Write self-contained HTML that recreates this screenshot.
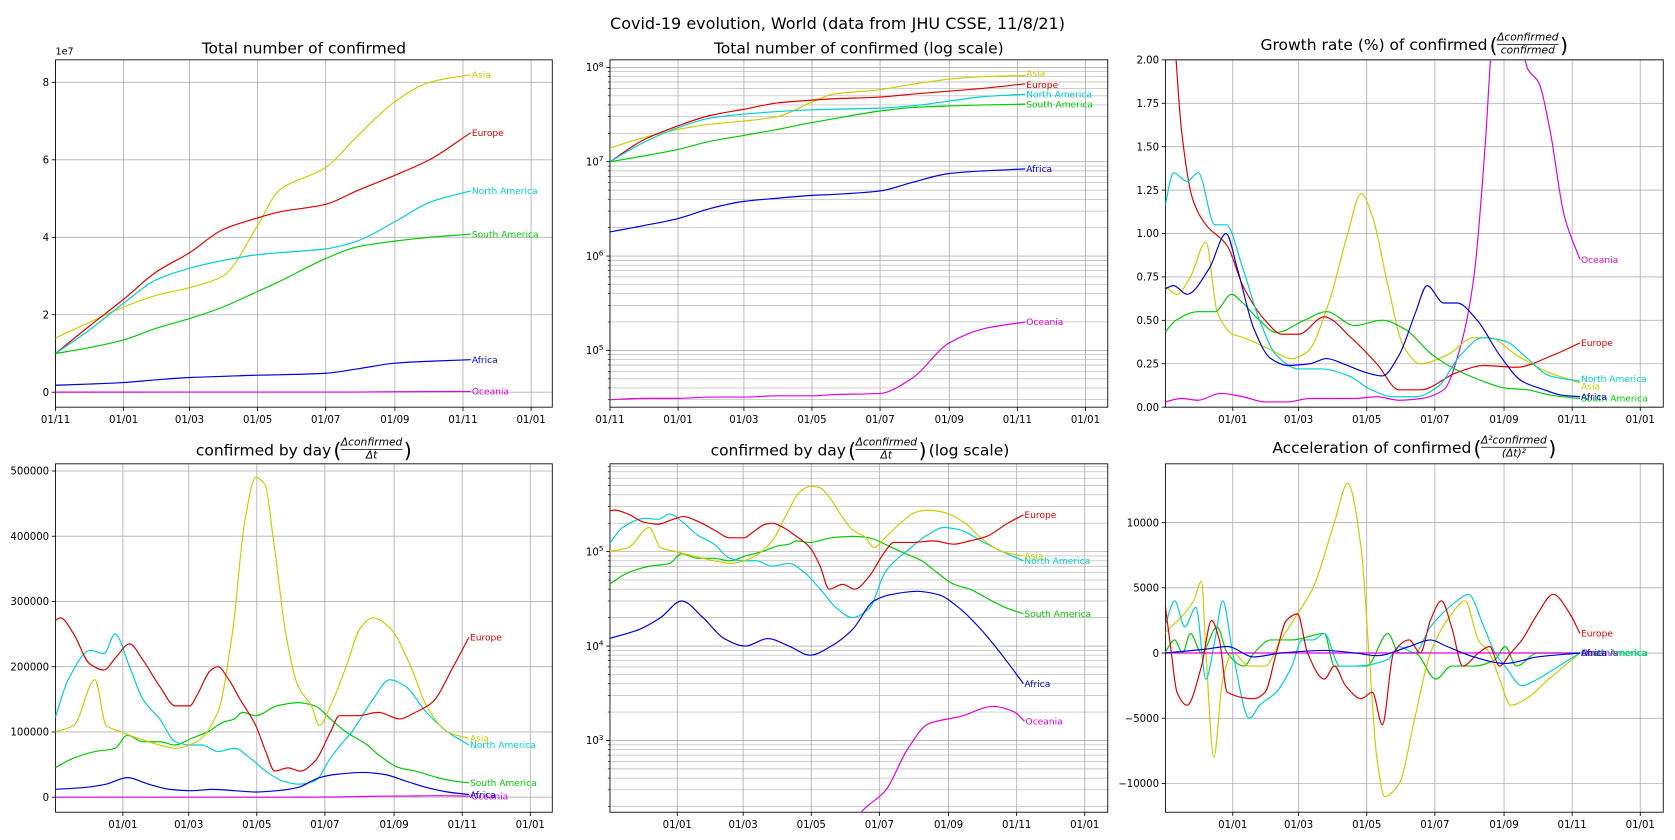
<!DOCTYPE html>
<html><head><meta charset="utf-8"><title>Covid-19 evolution</title>
<style>
html,body{margin:0;padding:0;background:#fff;overflow:hidden;width:1675px;height:840px;}
svg{display:block;font-family:"DejaVu Sans","Liberation Sans",sans-serif;}
</style></head>
<body>
<svg id="chart" width="1675" height="840" viewBox="0 0 1568 786" preserveAspectRatio="none" xmlns="http://www.w3.org/2000/svg">
<text x="784" y="27" text-anchor="middle" font-size="15">Covid-19 evolution, World (data from JHU CSSE, 11/8/21)</text>
</svg>
<script>
// ---------- DATA ----------
const regions = ['Europe','Asia','North America','South America','Africa','Oceania'];
const xTickDays = [0,61,120,181,242,304,365,426];
const xTickLabels = ['01/11','01/01','01/03','01/05','01/07','01/09','01/11','01/01'];

// cumulative confirmed (millions)
const cumDays = [0,30,61,90,120,150,181,200,242,270,304,335,372];
const cumEurope = [10,17,24,31,36,42,45,46.5,48.5,52,56,60,67];
const cumAsia = [14,18,22,25,27,30,43,52,58,66,75,80,82];
const cumNA = [10,16,23,29,32,34,35.5,36,37,39,44,49,52];
const cumSA = [10,11.5,13.5,16.5,19,22,26,28.5,34.5,37.5,39,40,40.8];
const cumAfrica = [1.8,2.1,2.5,3.2,3.8,4.1,4.4,4.5,4.9,6.0,7.5,8.0,8.4];
const cumOceania = [0.030,0.031,0.031,0.032,0.032,0.033,0.033,0.034,0.035,0.05,0.12,0.17,0.20];

// growth rate (%)
const grEuropeD = [0,8,15,25,37,56,70,90,105,120,143,167,190,210,229,262,286,315,348,372];
const grEuropeV = [2.8,2.2,1.6,1.2,1.05,0.93,0.7,0.5,0.42,0.42,0.52,0.4,0.25,0.1,0.1,0.2,0.24,0.23,0.3,0.37];
const grAsiaD = [0,11,23,37,47,61,71,95,114,128,147,164,176,186,200,214,229,253,277,291,315,344,372];
const grAsiaV = [0.7,0.65,0.75,0.95,0.55,0.42,0.4,0.33,0.28,0.32,0.6,1.0,1.23,1.1,0.7,0.35,0.25,0.3,0.4,0.4,0.3,0.2,0.14];
const grNAD = [0,8,20,30,45,55,70,85,100,120,140,165,185,205,225,245,265,285,305,325,345,372];
const grNAV = [1.15,1.35,1.3,1.35,1.05,1.05,0.8,0.5,0.3,0.22,0.22,0.18,0.1,0.06,0.06,0.12,0.3,0.4,0.38,0.28,0.18,0.15];
const grSAD = [0,10,30,45,60,70,85,100,125,145,170,195,215,240,260,285,305,325,345,372];
const grSAV = [0.43,0.5,0.55,0.55,0.65,0.6,0.5,0.43,0.5,0.55,0.47,0.5,0.45,0.3,0.22,0.15,0.11,0.1,0.07,0.05];
const grAfricaD = [0,8,20,40,55,65,80,95,110,130,145,160,180,195,210,225,235,250,262,280,300,320,340,355,372];
const grAfricaV = [0.68,0.7,0.65,0.8,1.0,0.8,0.45,0.28,0.24,0.25,0.28,0.25,0.2,0.18,0.3,0.55,0.7,0.6,0.6,0.5,0.3,0.15,0.1,0.07,0.06];
const grOceaniaD = [0,15,30,50,70,90,110,130,170,190,210,230,250,265,277,287,293,300,315,325,335,345,358,372];
const grOceaniaV = [0.03,0.05,0.04,0.08,0.06,0.03,0.03,0.05,0.05,0.06,0.04,0.05,0.1,0.35,0.75,1.5,2.1,2.5,2.3,1.95,1.87,1.6,1.1,0.85];

// confirmed by day (thousands)
const dayEuropeD = [0,5,17,31,44,55,67,79,94,108,121,127,140,146,156,166,180,189,197,209,220,233,247,255,271,290,309,323,338,357,371];
const dayEuropeV = [270,275,250,205,195,215,235,210,170,140,140,155,195,200,180,150,110,70,40,45,40,55,100,125,125,130,120,130,145,200,245];
const dayAsiaD = [0,17,36,46,60,75,94,108,127,146,159,170,180,188,197,207,218,230,237,247,261,274,285,300,319,333,352,371];
const dayAsiaV = [100,110,180,110,100,90,80,75,85,130,250,420,490,480,380,250,170,140,110,140,200,260,275,260,200,140,100,90];
const dayNAD = [0,12,32,44,54,67,79,94,108,121,132,146,161,175,189,204,218,233,247,256,266,285,300,314,333,352,371];
const dayNAV = [120,180,225,220,250,200,150,120,85,80,80,70,75,60,40,25,20,25,60,80,100,150,180,170,130,100,80];
const daySAD = [0,17,36,54,65,79,94,108,122,137,151,161,168,180,199,218,233,247,261,280,290,309,323,343,357,371];
const daySAV = [45,60,70,75,95,85,85,80,90,100,115,120,130,125,140,145,140,120,100,80,65,45,40,30,25,22];
const dayAfricaD = [0,27,46,65,84,103,122,142,161,180,199,218,237,252,276,295,314,333,352,371];
const dayAfricaV = [12,15,20,30,20,12,10,12,10,8,10,15,30,35,38,35,25,15,8,4];
const dayOceaniaD = [0,60,120,180,210,225,248,267,286,315,344,363,372];
const dayOceaniaV = [0.03,0.04,0.05,0.05,0.08,0.17,0.3,0.8,1.5,1.8,2.3,2.0,1.6];

// acceleration (thousands)
const accEuropeD = [0,6,11,20,33,42,49,56,80,90,100,109,119,128,143,152,162,176,186,195,205,219,229,238,248,257,267,281,291,300,310,320,334,348,363,372];
const accEuropeV = [4,0,-3,-4,-1,2.5,1,-3,-3.5,-3,0,2.5,3,0,-2,-1,-2.5,-3.5,-3,-5.5,0,1,0,2.5,4,2,-1,0,0.5,-1,0,1,3,4.5,3,1.5];
const accAsiaD = [0,26,33,37,44,52,61,76,90,104,119,133,152,164,176,183,190,197,210,224,238,257,269,281,291,300,310,324,344,358,372];
const accAsiaV = [1.5,4,5.5,0,-8,-2,0,-1,-1,1,3,5,10,13,8,0,-8,-11,-10,-5,0,3,4,1,0,-2,-4,-3.5,-2,-1,0];
const accNAD = [0,9,18,28,37,45,52,61,76,85,100,114,123,133,143,157,171,200,210,224,238,262,272,286,296,305,320,334,353,372];
const accNAV = [2,4,2,3.5,-2,1,4,0,-5,-4,-3,-1,1,1,1.5,-1,-1,-0.5,0.5,0,2,4,4.5,2,0,-1,-2.5,-2,-1,0];
const accSAD = [0,9,16,23,33,47,56,71,80,95,114,143,152,181,200,210,224,243,257,277,296,305,315,334,372];
const accSAV = [0,1,0,1.5,0,2,0,-1,0,1,1,1.5,-1,-1,1.5,0,0,-2,-1,-1,-0.5,0.5,-1,0,0];
const accAfricaD = [0,37,56,80,104,143,171,190,219,238,253,277,305,334,372];
const accAfricaV = [0,0.3,0.5,-0.3,0,0.2,0,-0.2,0.5,1,0.5,-0.3,-0.8,-0.3,0];
const accOceaniaD = [0,372];
const accOceaniaV = [0,0];

const p1YTicks = [0,20,40,60,80];
const p1YLabels = ['0','2','4','6','8'];
const p2YTicks = [0.1,1,10,100];
const p2YExp = ['5','6','7','8'];
const p3YTicks = [0,0.25,0.5,0.75,1,1.25,1.5,1.75,2];
const p4YTicks = [0,100,200,300,400,500];
const p5YTicks = [1,10,100];
const p5YExp = ['3','4','5'];
const p6YTicks = [-10,-5,0,5,10];
const p6YLabels = ['\u221210000','\u22125000','0','5000','10000'];

// ---------- RENDER ----------
const NS = 'http://www.w3.org/2000/svg';
const svg = document.getElementById('chart');
const colors = {'Europe':'#e00000','Asia':'#cccc00','North America':'#00d0d0','South America':'#00cc00','Africa':'#0000e0','Oceania':'#e000e0'};
function mk(tag, parent){ const e = document.createElementNS(NS, tag); (parent||svg).appendChild(e); return e; }

const P = {
  p1:{x0:52,x1:517,y0:56,y1:381,xmin:0,xmax:445,ymin:-3.86,ymax:85.8,log:false},
  p2:{x0:571,x1:1037,y0:56,y1:381,xmin:0,xmax:446,ymin:Math.pow(10,-1.602),ymax:Math.pow(10,2.08),log:true},
  p3:{x0:1091,x1:1557,y0:56,y1:381,xmin:0.7,xmax:446.6,ymin:0,ymax:2,log:false},
  p4:{x0:52,x1:517,y0:434,y1:760,xmin:0.7,xmax:445.7,ymin:-23,ymax:511,log:false},
  p5:{x0:571,x1:1037,y0:434,y1:760,xmin:0.7,xmax:446.6,ymin:Math.pow(10,-0.76),ymax:Math.pow(10,2.93),log:true},
  p6:{x0:1091,x1:1557,y0:434,y1:760,xmin:0.7,xmax:446.6,ymin:-12.2,ymax:14.5,log:false}
};
function sx(p,d){ return p.x0 + (d-p.xmin)/(p.xmax-p.xmin)*(p.x1-p.x0); }
function sy(p,v){
  if(p.log){ const a=Math.log10(p.ymin), b=Math.log10(p.ymax); const lv=Math.log10(Math.max(v,1e-6)); return p.y1-(lv-a)/(b-a)*(p.y1-p.y0); }
  return p.y1-(v-p.ymin)/(p.ymax-p.ymin)*(p.y1-p.y0);
}
function monoPath(xs, ys){
  const n = xs.length; if(n<2) return '';
  const dx=[], m=[], t=[];
  for(let i=0;i<n-1;i++){ dx[i]=xs[i+1]-xs[i]; m[i]=(ys[i+1]-ys[i])/dx[i]; }
  t[0]=m[0]; t[n-1]=m[n-2];
  for(let i=1;i<n-1;i++){
    if(m[i-1]*m[i]<=0) t[i]=0;
    else { const w1=2*dx[i]+dx[i-1], w2=dx[i]+2*dx[i-1]; t[i]=(w1+w2)/(w1/m[i-1]+w2/m[i]); }
  }
  let d='M'+xs[0].toFixed(2)+','+ys[0].toFixed(2);
  for(let i=0;i<n-1;i++){
    const h=dx[i]/3;
    d+='C'+(xs[i]+h).toFixed(2)+','+(ys[i]+t[i]*h).toFixed(2)+' '+(xs[i+1]-h).toFixed(2)+','+(ys[i+1]-t[i+1]*h).toFixed(2)+' '+xs[i+1].toFixed(2)+','+ys[i+1].toFixed(2);
  }
  return d;
}

let clipId = 0;
function drawFrame(key, yTicks, yLabelFn, yExp){
  const p = P[key];
  const g = mk('g');
  
  
  xTickDays.forEach((d,i)=>{
    if(d < p.xmin-0.01 || d > p.xmax) return;
    const x = sx(p,d);
    const gl = mk('line', g);
    
    
    gl.setAttribute('x1',x); gl.setAttribute('x2',x); gl.setAttribute('y1',p.y0); gl.setAttribute('y2',p.y1);
    gl.setAttribute('stroke','#b0b0b0'); gl.setAttribute('stroke-width','0.8');
    const tk = mk('line', g);
    
    
    tk.setAttribute('x1',x); tk.setAttribute('x2',x); tk.setAttribute('y1',p.y1); tk.setAttribute('y2',p.y1+3.5);
    tk.setAttribute('stroke','#000'); tk.setAttribute('stroke-width','0.8');
    const tl = mk('text', g);
    
    
    tl.setAttribute('x',x); tl.setAttribute('y',p.y1+15); tl.setAttribute('font-size','9.5'); tl.setAttribute('text-anchor','middle');
    tl.textContent = xTickLabels[i];
  });
  if(p.log){
    const a=Math.floor(Math.log10(p.ymin)), b=Math.ceil(Math.log10(p.ymax));
    for(let e=a;e<=b;e++){
      for(let k=2;k<=9;k++){
        const v=k*Math.pow(10,e);
        if(v<p.ymin||v>p.ymax) continue;
        const y=sy(p,v);
        const ml = mk('line', g);
        
        
        ml.setAttribute('x1',p.x0); ml.setAttribute('x2',p.x1); ml.setAttribute('y1',y); ml.setAttribute('y2',y);
        ml.setAttribute('stroke','#b0b0b0'); ml.setAttribute('stroke-width','0.6');
        const mt = mk('line', g);
        
        
        mt.setAttribute('x1',p.x0-2); mt.setAttribute('x2',p.x0); mt.setAttribute('y1',y); mt.setAttribute('y2',y);
        mt.setAttribute('stroke','#000'); mt.setAttribute('stroke-width','0.6');
      }
    }
  }
  yTicks.forEach((v,i)=>{
    const y = sy(p,v);
    const gl = mk('line', g);
    
    
    gl.setAttribute('x1',p.x0); gl.setAttribute('x2',p.x1); gl.setAttribute('y1',y); gl.setAttribute('y2',y);
    gl.setAttribute('stroke','#b0b0b0'); gl.setAttribute('stroke-width','0.8');
    const tk = mk('line', g);
    
    
    tk.setAttribute('x1',p.x0-3.5); tk.setAttribute('x2',p.x0); tk.setAttribute('y1',y); tk.setAttribute('y2',y);
    tk.setAttribute('stroke','#000'); tk.setAttribute('stroke-width','0.8');
    const tl = mk('text', g);
    
    
    tl.setAttribute('x',p.x0-6); tl.setAttribute('y',y+3.5); tl.setAttribute('font-size','9.5'); tl.setAttribute('text-anchor','end');
    if(yExp){
      tl.textContent = '10';
      const sup = mk('tspan', tl);
      
      
      sup.setAttribute('dy','-4'); sup.setAttribute('font-size','7');
      sup.textContent = yExp[i];
    } else {
      tl.textContent = yLabelFn(i,v);
    }
  });
  const fr = mk('rect', g);
  
  
  fr.setAttribute('x',p.x0); fr.setAttribute('y',p.y0); fr.setAttribute('width',p.x1-p.x0); fr.setAttribute('height',p.y1-p.y0);
  fr.setAttribute('fill','none'); fr.setAttribute('stroke','#000'); fr.setAttribute('stroke-width','0.8');
  const cp = mk('clipPath');
  const id = 'clip'+(clipId++);
  cp.setAttribute('id', id);
  const cr = mk('rect', cp);
  cr.setAttribute('x',p.x0); cr.setAttribute('y',p.y0); cr.setAttribute('width',p.x1-p.x0); cr.setAttribute('height',p.y1-p.y0);
  const sg = mk('g');
  
  
  sg.setAttribute('clip-path','url(#'+id+')');
  return sg;
}

function drawSeries(key, g, region, days, vals, labelOffset){
  const p = P[key];
  const xs = days.map(d=>sx(p,d));
  const ys = vals.map(v=>sy(p,v));
  const path = mk('path', g);
  
  
  path.setAttribute('d', monoPath(xs, ys));
  path.setAttribute('fill','none'); path.setAttribute('stroke',colors[region]); path.setAttribute('stroke-width','1.1');
  const lbl = mk('text', g);
  
  
  lbl.setAttribute('x', xs[xs.length-1]+1);
  lbl.setAttribute('y', ys[ys.length-1]+3+(labelOffset||0));
  lbl.setAttribute('font-size','8.5');
  lbl.setAttribute('fill', colors[region]);
  lbl.textContent = region;
}

function title(key, y, pre, num, den, post){
  const p = P[key];
  const g = mk('g');
  
  
  const t = mk('text', g);
  
  
  t.setAttribute('y', y); t.setAttribute('font-size','14.5');
  t.textContent = pre;
  let w = t.getComputedTextLength();
  if(!num){ t.setAttribute('x', (p.x0+p.x1)/2 - w/2); return; }
  const n = mk('text', g);
  
  
  n.setAttribute('font-size','10'); n.setAttribute('font-style','italic'); n.setAttribute('text-anchor','middle');
  n.textContent = num;
  const dn = mk('text', g);
  
  
  dn.setAttribute('font-size','10'); dn.setAttribute('font-style','italic'); dn.setAttribute('text-anchor','middle');
  dn.textContent = den;
  const fw = Math.max(n.getComputedTextLength(), dn.getComputedTextLength());
  const pw = 9;
  const pt = mk('text', g);
  
  
  pt.setAttribute('font-size','14.5'); pt.setAttribute('y', y);
  pt.textContent = post || '';
  const postW = post ? pt.getComputedTextLength() : 0;
  const total = w + pw + fw + pw + postW;
  const x = (p.x0+p.x1)/2 - total/2;
  t.setAttribute('x', x);
  const fx = x + w + pw;
  n.setAttribute('x', fx+fw/2); n.setAttribute('y', y-9);
  dn.setAttribute('x', fx+fw/2); dn.setAttribute('y', y+3);
  const bar = mk('line', g);
  
  
  bar.setAttribute('x1', fx); bar.setAttribute('x2', fx+fw); bar.setAttribute('y1', y-5.5); bar.setAttribute('y2', y-5.5);
  bar.setAttribute('stroke','#000'); bar.setAttribute('stroke-width','0.7');
  const lp = mk('text', g);
  
  
  lp.setAttribute('x', fx-pw+2); lp.setAttribute('y', y+2); lp.setAttribute('font-size','19');
  lp.textContent = '(';
  const rp = mk('text', g);
  
  
  rp.setAttribute('x', fx+fw+1.5); rp.setAttribute('y', y+2); rp.setAttribute('font-size','19');
  rp.textContent = ')';
  pt.setAttribute('x', fx+fw+pw+2);
}

// Panel 1
let g1 = drawFrame('p1', p1YTicks, (i)=>p1YLabels[i]);
const e7 = mk('text');


e7.setAttribute('x', 52); e7.setAttribute('y', 51); e7.setAttribute('font-size','9');
e7.textContent = '1e7';
drawSeries('p1', g1, 'Asia', cumDays, cumAsia);
drawSeries('p1', g1, 'Europe', cumDays, cumEurope);
drawSeries('p1', g1, 'North America', cumDays, cumNA);
drawSeries('p1', g1, 'South America', cumDays, cumSA);
drawSeries('p1', g1, 'Africa', cumDays, cumAfrica);
drawSeries('p1', g1, 'Oceania', cumDays, cumOceania);
title('p1', 50, 'Total number of confirmed');

// Panel 2
let g2 = drawFrame('p2', p2YTicks, null, p2YExp);
drawSeries('p2', g2, 'Asia', cumDays, cumAsia, -2);
drawSeries('p2', g2, 'Europe', cumDays, cumEurope, 1);
drawSeries('p2', g2, 'North America', cumDays, cumNA);
drawSeries('p2', g2, 'South America', cumDays, cumSA);
drawSeries('p2', g2, 'Africa', cumDays, cumAfrica);
drawSeries('p2', g2, 'Oceania', cumDays, cumOceania);
title('p2', 50, 'Total number of confirmed (log scale)');

// Panel 3
let g3 = drawFrame('p3', p3YTicks, (i,v)=>v.toFixed(2));
drawSeries('p3', g3, 'Oceania', grOceaniaD, grOceaniaV);
drawSeries('p3', g3, 'Asia', grAsiaD, grAsiaV, 3);
drawSeries('p3', g3, 'South America', grSAD, grSAV);
drawSeries('p3', g3, 'Europe', grEuropeD, grEuropeV);
drawSeries('p3', g3, 'North America', grNAD, grNAV, -2);
drawSeries('p3', g3, 'Africa', grAfricaD, grAfricaV);
title('p3', 47, 'Growth rate (%) of confirmed ', '\u0394confirmed', 'confirmed');

// Panel 4
let g4 = drawFrame('p4', p4YTicks, (i,v)=>String(v*1000));
drawSeries('p4', g4, 'Oceania', dayOceaniaD, dayOceaniaV);
drawSeries('p4', g4, 'South America', daySAD, daySAV);
drawSeries('p4', g4, 'North America', dayNAD, dayNAV);
drawSeries('p4', g4, 'Asia', dayAsiaD, dayAsiaV);
drawSeries('p4', g4, 'Europe', dayEuropeD, dayEuropeV);
drawSeries('p4', g4, 'Africa', dayAfricaD, dayAfricaV);
title('p4', 426, 'confirmed by day ', '\u0394confirmed', '\u0394t');

// Panel 5
let g5 = drawFrame('p5', p5YTicks, null, p5YExp);
drawSeries('p5', g5, 'Oceania', dayOceaniaD, dayOceaniaV);
drawSeries('p5', g5, 'South America', daySAD, daySAV);
drawSeries('p5', g5, 'North America', dayNAD, dayNAV);
drawSeries('p5', g5, 'Asia', dayAsiaD, dayAsiaV);
drawSeries('p5', g5, 'Europe', dayEuropeD, dayEuropeV);
drawSeries('p5', g5, 'Africa', dayAfricaD, dayAfricaV);
title('p5', 426, 'confirmed by day ', '\u0394confirmed', '\u0394t', ' (log scale)');

// Panel 6
let g6 = drawFrame('p6', p6YTicks, (i)=>p6YLabels[i]);
drawSeries('p6', g6, 'South America', accSAD, accSAV);
drawSeries('p6', g6, 'Asia', accAsiaD, accAsiaV);
drawSeries('p6', g6, 'North America', accNAD, accNAV);
drawSeries('p6', g6, 'Oceania', accOceaniaD, accOceaniaV);
drawSeries('p6', g6, 'Europe', accEuropeD, accEuropeV);
drawSeries('p6', g6, 'Africa', accAfricaD, accAfricaV);
title('p6', 424, 'Acceleration of confirmed ', '\u0394\u00B2confirmed', '(\u0394t)\u00B2');
</script>
</body></html>
